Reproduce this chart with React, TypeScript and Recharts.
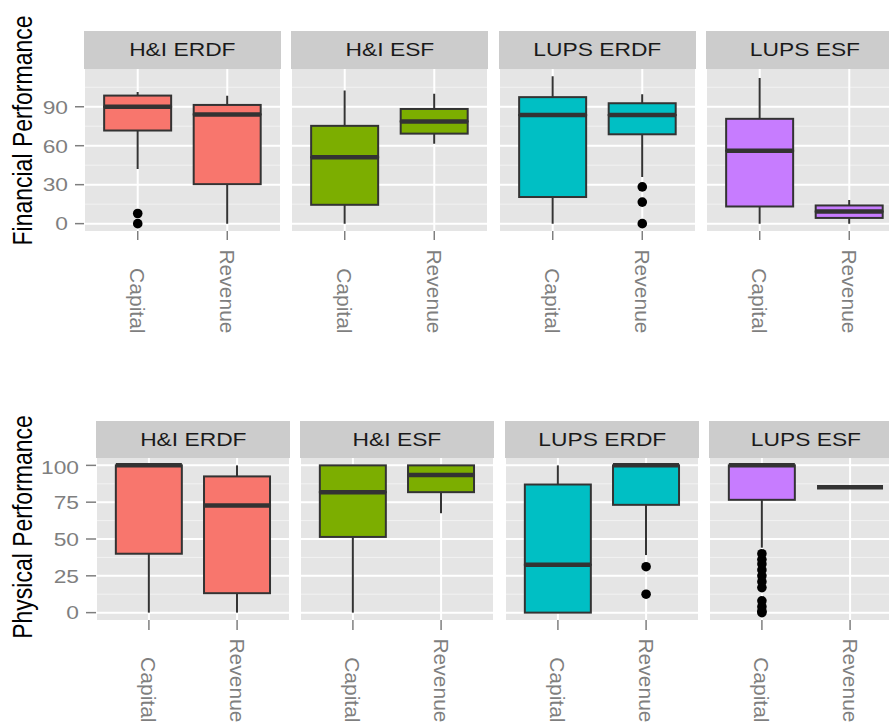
import React from "react"
import { ComposedChart, Bar, Scatter, XAxis, YAxis, CartesianGrid } from "recharts"

const facets = ["H&I ERDF", "H&I ESF", "LUPS ERDF", "LUPS ESF"]
const fundTypes = ["Capital", "Revenue"]
const facetFills = ["#F8766D", "#7CAE00", "#00BFC4", "#C77CFF"]

// [lower whisker, Q1, median, Q3, upper whisker] for Capital, Revenue in each facet
const financialStats = [
  [[42, 71.7, 90, 98.6, 101.3], [0, 30.4, 84.1, 91.4, 98.4]],
  [[0, 14.5, 51.1, 75.3, 102.5], [61.5, 69.3, 78.7, 88.3, 100]],
  [[0, 20.5, 83.6, 97.4, 113.4], [36, 68.8, 83.6, 92.7, 99.7]],
  [[0, 13.2, 56.1, 80.7, 112.2], [0, 4.4, 9.3, 14, 18.2]],
]
const financialOutliers = [
  [[7.8, 0], []],
  [[], []],
  [[], [28.3, 16.6, 0]],
  [[], []],
]
const financialTicks = [0, 30, 60, 90]
const financialMinor = [15, 45, 75, 105]

const physicalStats = [
  [[0, 40, 100, 100, 100], [0, 13.2, 72.7, 92.5, 100]],
  [[0, 51.4, 81.8, 100, 100], [67.5, 81.8, 93.4, 100, 100]],
  [[0, 0, 32.5, 87, 100], [39.1, 73.2, 100, 100, 100]],
  [[44.1, 76.6, 100, 100, 100], [85.2, 85.2, 85.2, 85.2, 85.2]],
]
const physicalOutliers = [
  [[], []],
  [[], []],
  [[], [31.2, 12.5]],
  [[40, 36, 33, 29, 25, 21, 17, 8, 4, 1, 0], []],
]
const physicalTicks = [0, 25, 50, 75, 100]
const physicalMinor = [12.5, 37.5, 62.5, 87.5]

const FONT = "'Liberation Sans', Arial, Helvetica, sans-serif"
const OUTLINE = "#333333"
const AXIS_GREY = "#7F7F7F"
const Y_AXIS_W = 60
const X_AXIS_H = 112
// horizontal text is drawn a little wider than the stock font
const WIDEN = 1.2

// ggplot-style 5% expansion of the data range
function expandedDomain(stats: number[][][], outliers: number[][][]): [number, number] {
  const all: number[] = []
  stats.forEach((f) => f.forEach((s) => all.push(...s)))
  outliers.forEach((f) => f.forEach((o) => all.push(...o)))
  const lo = Math.min(...all)
  const hi = Math.max(...all)
  const pad = (hi - lo) * 0.05
  return [lo - pad, hi + pad]
}

function boxRows(stats: number[][]) {
  return fundTypes.map((cat, i) => {
    const [lo, q1, med, q3, hi] = stats[i]
    return {
      cat,
      base: lo,
      wLow: q1 - lo,
      boxLow: med - q1,
      boxHigh: q3 - med,
      wHigh: hi - q3,
    }
  })
}

function outlierRows(outliers: number[][]) {
  const rows: { cat: string; v: number }[] = []
  fundTypes.forEach((cat, i) => outliers[i].forEach((v) => rows.push({ cat, v })))
  return rows
}

const Nothing = () => <g />

const Whisker = (p: any) => {
  const cx = p.x + p.width / 2
  return <line x1={cx} x2={cx} y1={p.y} y2={p.y + p.height} stroke={OUTLINE} strokeWidth={2} />
}

const boxLowerShape = (fill: string) => (p: any) => (
  <rect x={p.x} y={p.y} width={p.width} height={p.height} fill={fill} stroke={OUTLINE} strokeWidth={2} />
)

// upper half of the box also carries the median bar along its bottom edge
const boxUpperShape = (fill: string) => (p: any) => (
  <g>
    <rect x={p.x} y={p.y} width={p.width} height={p.height} fill={fill} stroke={OUTLINE} strokeWidth={2} />
    <line x1={p.x} x2={p.x + p.width} y1={p.y + p.height} y2={p.y + p.height} stroke={OUTLINE} strokeWidth={4.5} />
  </g>
)

const OutlierDot = (p: any) => <circle cx={p.cx} cy={p.cy} r={4.8} fill="#000" />

const catTick = (endY: number) => (props: any) => {
  const { x, payload } = props
  return (
    <text
      x={x}
      y={endY}
      transform={`rotate(90 ${x} ${endY})`}
      textAnchor="end"
      dominantBaseline="central"
      fill={AXIS_GREY}
      fontSize={21}
      fontFamily={FONT}
    >
      {payload.value}
    </text>
  )
}

const ValueTick = (props: any) => {
  const { x, y, payload } = props
  return (
    <text
      x={0}
      y={0}
      transform={`translate(${x} ${y}) scale(${WIDEN} 1)`}
      textAnchor="end"
      dominantBaseline="central"
      fill={AXIS_GREY}
      fontSize={19}
      fontFamily={FONT}
    >
      {payload.value}
    </text>
  )
}

interface FacetProps {
  index: number
  stats: number[][]
  outliers: number[][]
  domain: [number, number]
  ticks: number[]
  minor: number[]
  left: number
  top: number
  panelW: number
  panelH: number
  stripTop: number
  stripH: number
  tickSize: number
  tickMargin: number
}

function Facet(props: FacetProps) {
  const { index, stats, outliers, domain, ticks, minor, left, top, panelW, panelH, stripTop, stripH, tickSize, tickMargin } = props
  const showY = index === 0
  const fill = facetFills[index]
  const rows = boxRows(stats)
  const outs = outlierRows(outliers)
  const pad = panelW / 22
  const chartLeft = showY ? left - Y_AXIS_W : left
  const chartW = showY ? panelW + Y_AXIS_W : panelW

  return (
    <>
      <div
        style={{
          position: "absolute",
          left,
          top: stripTop,
          width: panelW,
          height: stripH,
          background: "#CCCCCC",
          color: "#1A1A1A",
          fontFamily: FONT,
          fontSize: 19,
          lineHeight: `${stripH}px`,
          textAlign: "center",
          overflow: "hidden",
        }}
      >
        <span style={{ display: "inline-block", transform: `scaleX(${WIDEN})` }}>{facets[index]}</span>
      </div>
      <div style={{ position: "absolute", left: chartLeft, top }}>
        <ComposedChart
          width={chartW}
          height={panelH + X_AXIS_H}
          data={rows}
          margin={{ top: 0, right: 0, bottom: 0, left: 0 }}
          barCategoryGap="12.5%"
        >
          <CartesianGrid horizontalValues={minor} vertical={false} stroke="#F2F2F2" strokeWidth={1} fill="#E5E5E5" />
          <CartesianGrid horizontalValues={ticks} stroke="#FFFFFF" strokeWidth={2} fill="none" />
          <XAxis
            dataKey="cat"
            type="category"
            allowDuplicatedCategory={false}
            padding={{ left: pad, right: pad }}
            height={X_AXIS_H}
            axisLine={false}
            tickSize={tickSize}
            tickLine={{ stroke: AXIS_GREY, strokeWidth: 1.5 }}
            tick={catTick(panelH + 102.5)}
            interval={0}
          />
          <YAxis
            type="number"
            domain={domain}
            ticks={ticks}
            allowDataOverflow
            hide={!showY}
            width={Y_AXIS_W}
            axisLine={false}
            tickSize={tickSize}
            tickMargin={tickMargin}
            tickLine={{ stroke: AXIS_GREY, strokeWidth: 1.5 }}
            tick={<ValueTick />}
          />
          <Bar dataKey="base" stackId="box" shape={Nothing} isAnimationActive={false} />
          <Bar dataKey="wLow" stackId="box" shape={Whisker} isAnimationActive={false} />
          <Bar dataKey="boxLow" stackId="box" shape={boxLowerShape(fill)} isAnimationActive={false} />
          <Bar dataKey="boxHigh" stackId="box" shape={boxUpperShape(fill)} isAnimationActive={false} />
          <Bar dataKey="wHigh" stackId="box" shape={Whisker} isAnimationActive={false} />
          {outs.length > 0 && (
            <Scatter data={outs} dataKey="v" shape={OutlierDot} isAnimationActive={false} />
          )}
        </ComposedChart>
      </div>
    </>
  )
}

const financialDomain = expandedDomain(financialStats, financialOutliers)
const physicalDomain: [number, number] = [-5, 105]

function AxisTitle({ label, cx, cy }: { label: string; cx: number; cy: number }) {
  return (
    <text
      x={0}
      y={0}
      transform={`translate(${cx} ${cy}) scale(${WIDEN} 1) rotate(-90)`}
      textAnchor="middle"
      dominantBaseline="central"
      fontSize={23}
      fontFamily={FONT}
      fill="#000"
    >
      {label}
    </text>
  )
}

export default function App() {
  const topPanels = [84, 291, 499, 706]
  const bottomPanels = [96, 300, 505, 709]
  return (
    <div
      style={{
        position: "absolute",
        left: 0,
        top: 0,
        width: 889,
        height: 724,
        overflow: "hidden",
        background: "#FFFFFF",
      }}
    >
      {topPanels.map((x, i) => (
        <Facet
          key={`fin-${i}`}
          index={i}
          stats={financialStats[i]}
          outliers={financialOutliers[i]}
          domain={financialDomain}
          ticks={financialTicks}
          minor={financialMinor}
          left={x}
          top={69}
          panelW={197}
          panelH={162}
          stripTop={31}
          stripH={38}
          tickSize={9}
          tickMargin={7}
        />
      ))}
      {bottomPanels.map((x, i) => (
        <Facet
          key={`phys-${i}`}
          index={i}
          stats={physicalStats[i]}
          outliers={physicalOutliers[i]}
          domain={physicalDomain}
          ticks={physicalTicks}
          minor={physicalMinor}
          left={x}
          top={458}
          panelW={194}
          panelH={162}
          stripTop={421}
          stripH={37}
          tickSize={10}
          tickMargin={7}
        />
      ))}
      <svg width={889} height={724} style={{ position: "absolute", left: 0, top: 0, pointerEvents: "none" }}>
        <AxisTitle label="Financial Performance" cx={22.5} cy={130.5} />
        <AxisTitle label="Physical Performance" cx={22.5} cy={527} />
      </svg>
    </div>
  )
}
